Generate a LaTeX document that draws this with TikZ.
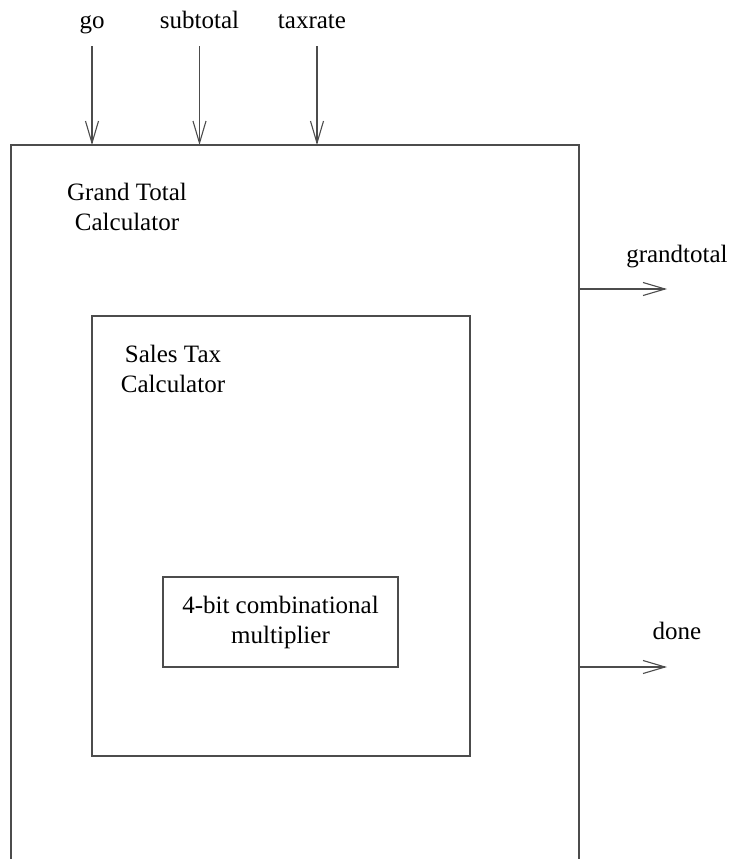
\documentclass[tikz,border=0pt]{standalone}
\usepackage{fontspec}
\setmainfont{Liberation Serif}
\usetikzlibrary{arrows.meta, positioning}

\tikzset{
  wire/.style={draw=black!70, line width=0.55pt},
  sig/.style={wire, -{Straight Barb[length=11pt,width=6.5pt,line width=0.55pt]}},
  lbl/.style={font=\fontsize{12.5}{15}\selectfont, inner sep=0pt, anchor=base, align=center}
}

\begin{document}
\begin{tikzpicture}[x=0.5pt,y=-0.5pt]
    \useasboundingbox (0,0) rectangle (729,859);
    % outer block, runs off the bottom of the page
    \draw[wire] (11,860) |- (579,145) -- (579,860);
    \node[lbl] (gtc) at (127,230) {Grand Total\\Calculator};
    % sales tax block
    \draw[wire] (92,316) rectangle (470,756);
    \node[lbl] (stc) at (173,392) {Sales Tax\\Calculator};
    % multiplier
    \draw[wire] (163,577) rectangle (398,667);
    \node[lbl] (mult) at (280.5,643) {4-bit combinational\\multiplier};
    %
    % inputs
    \node[lbl] (go) at (92,28) {go};
    \node[lbl] (subtotal) at (199.5,28) {subtotal};
    \node[lbl] (taxrate) at (312,28) {taxrate};
    \coordinate (go-src) at (92,46);
    \coordinate (subtotal-src) at (199.5,46);
    \coordinate (taxrate-src) at (317,46);
    \coordinate (go-in) at (92,145);
    \coordinate (subtotal-in) at (199.5,145);
    \coordinate (taxrate-in) at (317,145);
    \draw[sig] (go-src) -- (go-in);
    \draw[sig] (subtotal-src) -- (subtotal-in);
    \draw[sig] (taxrate-src) -- (taxrate-in);
    %
    % outputs
    \node[lbl] (grandtotal) at (677,262) {grandtotal};
    \node[lbl] (done) at (677,639) {done};
    \coordinate (grandtotal-out) at (579,289);
    \coordinate (done-out) at (579,667);
    \coordinate (grandtotal-dst) at (667,289);
    \coordinate (done-dst) at (667,667);
    \draw[sig] (grandtotal-out) -- (grandtotal-dst);
    \draw[sig] (done-out) -- (done-dst);
\end{tikzpicture}
\end{document}
